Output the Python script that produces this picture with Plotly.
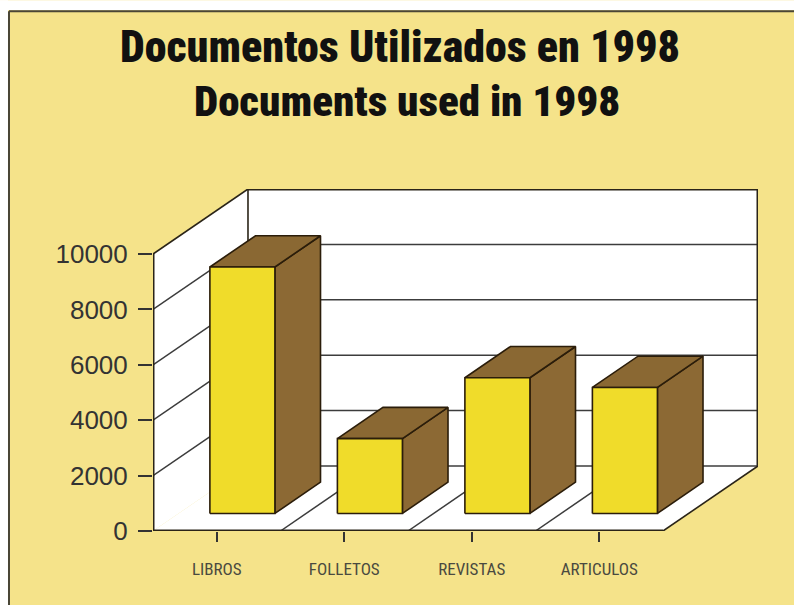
import plotly.graph_objects as go

# ---- data -------------------------------------------------------------
categories = ["LIBROS", "FOLLETOS", "REVISTAS", "ARTICULOS"]
documents = [8900, 2700, 4900, 4550]
y_tick_values = [0, 2000, 4000, 6000, 8000, 10000]
y_tick_labels = ["0", "2000", "4000", "6000", "8000", "10000"]
title_es = "Documentos Utilizados en 1998"
title_en = "Documents used in 1998"

# ---- geometry of the oblique 3-D box ----------------------------------
W, H = 794, 605
N = len(categories)
Y_MAX = 10000
DEPTH_X = 0.745          # depth shift, category units
DEPTH_Y = 2350           # depth shift, value units
BAR_W = 0.51
BAR_FRONT, BAR_BACK = 0.27, 0.75

PX_PER_CAT = 127.5
PX_PER_VAL = 0.0277
LEFT, BOTTOM = 153, 74
plot_w = (N + DEPTH_X) * PX_PER_CAT
plot_h = (Y_MAX + DEPTH_Y) * PX_PER_VAL
RIGHT = W - LEFT - plot_w
TOP = H - BOTTOM - plot_h

BG = "#F5E38A"
WALL = "#FFFFFF"
EDGE = "#2A2418"
GRID = "#3C3C3C"
FRONT = "#F0DC2A"
SIDE = "#8C6934"
TOPC = "#8A6833"
BAR_EDGE = "#2B1D0A"

NARROW = "Roboto Condensed, Liberation Sans Narrow, DejaVu Sans Condensed, sans-serif"


def proj(x, y, d):
    """Oblique projection of a point (x, value, depth 0..1)."""
    return x + d * DEPTH_X, y + d * DEPTH_Y


def poly(points, fill, line_color, width):
    xs, ys = zip(*points)
    xs = list(xs) + [xs[0]]
    ys = list(ys) + [ys[0]]
    return go.Scatter(x=xs, y=ys, mode="lines", fill="toself",
                      fillcolor=fill, line=dict(color=line_color, width=width),
                      hoverinfo="skip", showlegend=False)


def seg(p, q, color, width):
    return go.Scatter(x=[p[0], q[0]], y=[p[1], q[1]], mode="lines",
                      line=dict(color=color, width=width),
                      hoverinfo="skip", showlegend=False)


fig = go.Figure()

# walls and floor
fig.add_trace(poly([proj(0, 0, 0), proj(0, Y_MAX, 0), proj(0, Y_MAX, 1), proj(0, 0, 1)],
                   WALL, WALL, 0.1))
fig.add_trace(poly([proj(0, 0, 1), proj(0, Y_MAX, 1), proj(N, Y_MAX, 1), proj(N, 0, 1)],
                   WALL, WALL, 0.1))
fig.add_trace(poly([proj(0, 0, 0), proj(N, 0, 0), proj(N, 0, 1), proj(0, 0, 1)],
                   WALL, WALL, 0.1))

# gridlines on the side wall and back wall
for v in y_tick_values[1:-1]:
    fig.add_trace(seg(proj(0, v, 0), proj(0, v, 1), GRID, 1.5))
    fig.add_trace(seg(proj(0, v, 1), proj(N, v, 1), GRID, 1.5))
# category separators on the floor
for i in range(1, N):
    fig.add_trace(seg(proj(i, 0, 0), proj(i, 0, 1), GRID, 1.5))

# box outline (edges lying on the plot border are drawn wider)
fig.add_trace(seg(proj(0, 0, 0), proj(0, Y_MAX, 0), EDGE, 3))
fig.add_trace(seg(proj(0, Y_MAX, 0), proj(0, Y_MAX, 1), EDGE, 1.6))
fig.add_trace(seg(proj(0, Y_MAX, 1), proj(N, Y_MAX, 1), EDGE, 3))
fig.add_trace(seg(proj(N, Y_MAX, 1), proj(N, 0, 1), EDGE, 3))
fig.add_trace(seg(proj(0, 0, 1), proj(0, Y_MAX, 1), EDGE, 1.6))
fig.add_trace(seg(proj(0, 0, 1), proj(N, 0, 1), GRID, 1.5))
fig.add_trace(seg(proj(0, 0, 0), proj(N, 0, 0), EDGE, 3))
fig.add_trace(seg(proj(N, 0, 0), proj(N, 0, 1), EDGE, 1.6))

# bars: side face, top face, front face
for i, v in enumerate(documents):
    x0 = i + 0.5 - BAR_W / 2
    x1 = i + 0.5 + BAR_W / 2
    f, b = BAR_FRONT, BAR_BACK
    fig.add_trace(poly([proj(x1, 0, f), proj(x1, v, f), proj(x1, v, b), proj(x1, 0, b)],
                       SIDE, BAR_EDGE, 1.6))
    fig.add_trace(poly([proj(x0, v, f), proj(x1, v, f), proj(x1, v, b), proj(x0, v, b)],
                       TOPC, BAR_EDGE, 1.6))
    fig.add_trace(poly([proj(x0, 0, f), proj(x0, v, f), proj(x1, v, f), proj(x1, 0, f)],
                       FRONT, BAR_EDGE, 1.6))


def px_x(px):
    return (px - LEFT) / plot_w


def px_y(py):
    return (H - BOTTOM - py) / plot_h


annotations = [
    dict(text=title_es, x=px_x(400), y=px_y(47), xref="paper", yref="paper",
         xanchor="center", yanchor="middle", showarrow=False,
         font=dict(family=NARROW, size=44, color="#111111", weight=900)),
    dict(text=title_en, x=px_x(407), y=px_y(101), xref="paper", yref="paper",
         xanchor="center", yanchor="middle", showarrow=False,
         font=dict(family=NARROW, size=43, color="#111111", weight=900)),
]

shapes = [
    dict(type="rect", xref="paper", yref="paper", x0=px_x(0), x1=px_x(W), y0=px_y(0), y1=px_y(10),
         fillcolor="white", line=dict(width=0), layer="below"),
    dict(type="rect", xref="paper", yref="paper", x0=px_x(0), x1=px_x(8), y0=px_y(0), y1=px_y(H),
         fillcolor="white", line=dict(width=0), layer="below"),
    dict(type="line", xref="paper", yref="paper", x0=px_x(9), x1=px_x(W), y0=px_y(11), y1=px_y(11),
         line=dict(color="#4A4636", width=2)),
    dict(type="line", xref="paper", yref="paper", x0=px_x(9), x1=px_x(9), y0=px_y(11), y1=px_y(H),
         line=dict(color="#4A4636", width=2)),
]

fig.update_layout(
    width=W, height=H,
    margin=dict(l=LEFT, r=RIGHT, t=TOP, b=BOTTOM, pad=0),
    paper_bgcolor=BG, plot_bgcolor="rgba(0,0,0,0)",
    showlegend=False,
    annotations=annotations,
    shapes=shapes,
    xaxis=dict(range=[0, N + DEPTH_X], showgrid=False, zeroline=False, showline=False,
               tickmode="array", tickvals=[i + 0.5 for i in range(N)], ticktext=categories,
               ticks="outside", ticklen=10, tickwidth=1.5, tickcolor="#333333",
               ticklabelstandoff=13,
               tickfont=dict(family=NARROW, size=17, color="#4A4A40"),
               fixedrange=True),
    yaxis=dict(range=[0, Y_MAX + DEPTH_Y], showgrid=False, zeroline=False, showline=False,
               tickmode="array", tickvals=y_tick_values, ticktext=y_tick_labels,
               ticks="outside", ticklen=14, tickwidth=1.5, tickcolor="#333333",
               ticklabelstandoff=5,
               tickfont=dict(family="Liberation Sans, Arial, sans-serif", size=26, color="#333333"),
               fixedrange=True),
)

fig.write_html("out.html")
